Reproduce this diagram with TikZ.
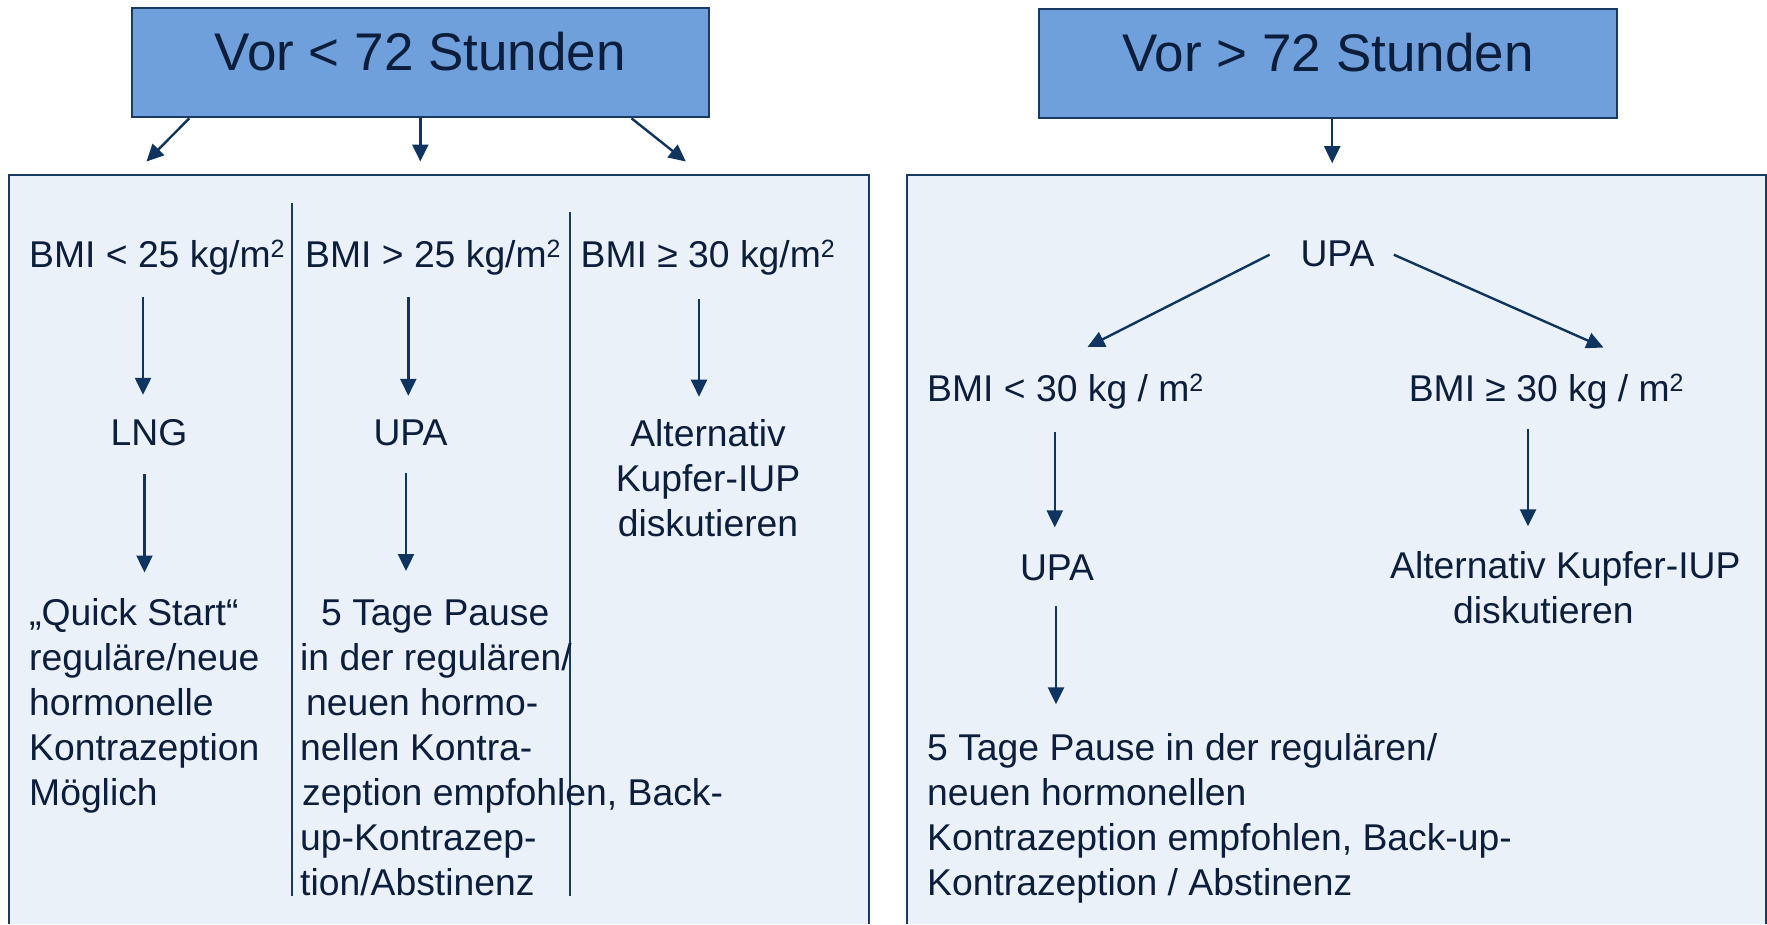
\documentclass[tikz,border=0pt]{standalone}
\usepackage{fontspec}
\setmainfont{Liberation Sans}
\usetikzlibrary{arrows.meta}

\definecolor{titlefill}{RGB}{112,160,220}
\definecolor{panelfill}{RGB}{234,241,249}
\definecolor{edge}{RGB}{26,58,102}
\definecolor{ink}{RGB}{12,30,60}
\definecolor{arrowc}{RGB}{16,52,96}

% small raised "2" for m^2
\newcommand\sqr{\raisebox{10pt}{\fontsize{25}{25}\selectfont 2}}

\begin{document}
\begin{tikzpicture}[x=1pt,y=-1pt,
  headbox/.style={draw=edge, line width=2pt, fill=titlefill, text=ink,
    font=\fontsize{53}{60}\selectfont, inner sep=0pt,
    text height=38pt, text depth=23pt},
  body/.style={text=ink, font=\fontsize{37.3}{45}\selectfont, inner sep=0pt, align=left},
  panel/.style={fill=panelfill},
  frame/.style={draw=edge, line width=2pt},
  divider/.style={draw=edge, line width=2pt},
  flow/.style={draw=arrowc, line width=2.4pt, -{Triangle[length=17pt,width=16pt]}},
]
\useasboundingbox[fill=white] (0,0) rectangle (1767,924);

% ---------- panels (open at the bottom) ----------
\fill[panel] (9,175) rectangle (869,924);
\draw[frame] (9,924) -- (9,175) -- (869,175) -- (869,924);
\fill[panel] (907,175) rectangle (1766,924);
\draw[frame] (907,924) -- (907,175) -- (1766,175) -- (1766,924);

% column dividers in the left panel
\draw[divider] (291.9,203) -- (291.9,896);
\draw[divider] (570.2,212) -- (570.2,896);

% ---------- headers ----------
\node[headbox, minimum width=577pt, minimum height=109.3pt] (hleft) at (420.3,62.6) {Vor < 72 Stunden};
\node[headbox, minimum width=578pt, minimum height=109.3pt] (hright) at (1328,63.6) {Vor > 72 Stunden};

% ---------- left panel texts (multi-line nodes anchored at their last baseline) ----------
\node[body, anchor=base west] (bmiA) at (29,267) {BMI < 25 kg/m\sqr};
\node[body, anchor=base west] (bmiB) at (305,267) {BMI > 25 kg/m\sqr};
\node[body, anchor=base west] (bmiC) at (580.5,267) {BMI ≥ 30 kg/m\sqr};
\node[body, anchor=base] (lng) at (149,445) {LNG};
\node[body, anchor=base] (upaL) at (410.5,445) {UPA};
\node[body, anchor=base, align=center] (iupL) at (708,536) {Alternativ\\Kupfer-IUP\\diskutieren};
\node[body, anchor=base west] (quick) at (29,805)
  {„Quick Start“\\reguläre/neue\\hormonelle\\Kontrazeption\\Möglich};
\node[body, anchor=base west] (pauseL) at (300,895)
  {\hspace*{21pt}5 Tage Pause\\in der regulären/\\\hspace*{6pt}neuen hormo-\\nellen Kontra-\\\hspace*{2pt}zeption empfohlen, Back-\\up-Kontrazep-\\tion/Abstinenz};

% ---------- right panel texts ----------
\node[body, anchor=base] (upaR) at (1337.5,266) {UPA};
\node[body, anchor=base west] (bmiD) at (927,401) {BMI < 30 kg / m\sqr};
\node[body, anchor=base west] (bmiE) at (1408.6,401) {BMI ≥ 30 kg / m\sqr};
\node[body, anchor=base] (upaR2) at (1057,580) {UPA};
\node[body, anchor=base west] (iupR) at (1390,623) {Alternativ Kupfer-IUP\\\hspace*{63pt}diskutieren};
\node[body, anchor=base west] (pauseR) at (927,895.5)
  {5 Tage Pause in der regulären/\\neuen hormonellen\\Kontrazeption empfohlen, Back-up-\\Kontrazeption / Abstinenz};

% ---------- arrow end points ----------
\coordinate (hl1) at (189.3,118.3);  \coordinate (tl1) at (146.5,161.5);
\coordinate (hl2) at (420.3,118.3);  \coordinate (tl2) at (420.3,161.5);
\coordinate (hl3) at (631.5,118.3);  \coordinate (tl3) at (685.8,161.5);
\coordinate (hr1) at (1332.2,119.3); \coordinate (tr1) at (1332.2,163.2);

\coordinate (a1s) at (143,296.5);  \coordinate (a1e) at (143,394.8);
\coordinate (a2s) at (144.5,474.4);\coordinate (a2e) at (144.5,572.5);
\coordinate (a3s) at (408.3,297);  \coordinate (a3e) at (408.3,395.8);
\coordinate (a4s) at (406,473.3);  \coordinate (a4e) at (406,571);
\coordinate (a5s) at (699,299);    \coordinate (a5e) at (699,396.7);

\coordinate (b1s) at (1269.5,254.7); \coordinate (b1e) at (1087.5,347);
\coordinate (b2s) at (1393.8,254.7); \coordinate (b2e) at (1603.5,347.5);
\coordinate (b3s) at (1054.8,431.6); \coordinate (b3e) at (1054.8,527.4);
\coordinate (b4s) at (1528,429.4);   \coordinate (b4e) at (1528,526.3);
\coordinate (b5s) at (1056,606.3);   \coordinate (b5e) at (1056,704.3);

% ---------- arrows ----------
\draw[flow] (hl1) -- (tl1);
\draw[flow] (hl2) -- (tl2);
\draw[flow] (hl3) -- (tl3);
\draw[flow] (hr1) -- (tr1);

\draw[flow] (a1s) -- (a1e);
\draw[flow] (a2s) -- (a2e);
\draw[flow] (a3s) -- (a3e);
\draw[flow] (a4s) -- (a4e);
\draw[flow] (a5s) -- (a5e);

\draw[flow] (b1s) -- (b1e);
\draw[flow] (b2s) -- (b2e);
\draw[flow] (b3s) -- (b3e);
\draw[flow] (b4s) -- (b4e);
\draw[flow] (b5s) -- (b5e);
\end{tikzpicture}
\end{document}
